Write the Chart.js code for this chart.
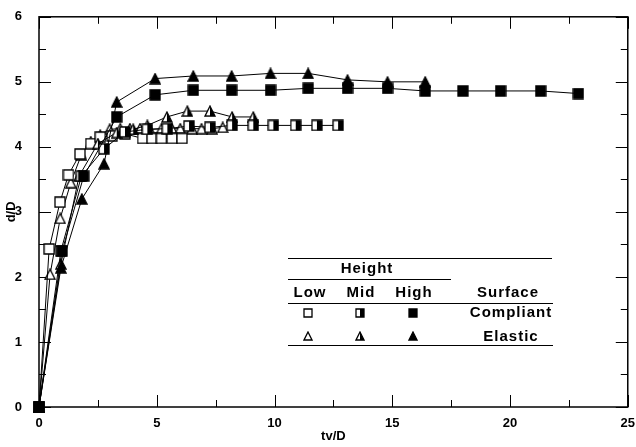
<!DOCTYPE html>
<html>
<head>
<meta charset="utf-8">
<script src="https://cdn.jsdelivr.net/npm/chart.js@4.4.1/dist/chart.umd.min.js"></script>
<style>
  html, body { margin: 0; padding: 0; background: #fff; }
  #wrap { width: 636px; height: 447px; }
</style>
</head>
<body>
<div id="wrap"><canvas id="chart"></canvas></div>
<script>
// values
const compliantLowX = [0, 0.43, 0.89, 1.25, 1.74, 2.2, 2.6, 3.1, 3.65, 4.4, 4.8, 5.2, 5.65, 6.07];
const compliantLowY = [0, 2.43, 3.15, 3.57, 3.89, 4.05, 4.15, 4.17, 4.2, 4.13, 4.13, 4.13, 4.13, 4.13];

const compliantMidX = [0, 0.93, 1.8, 2.76, 3.65, 4.6, 5.45, 6.37, 7.26, 8.2, 9.1, 9.95, 10.9, 11.8, 12.7];
const compliantMidY = [0, 2.4, 3.55, 3.97, 4.23, 4.27, 4.28, 4.32, 4.3, 4.33, 4.33, 4.33, 4.33, 4.33, 4.33];

const compliantHighX = [0, 0.98, 1.9, 3.3, 4.93, 6.55, 8.18, 9.83, 11.43, 13.1, 14.8, 16.4, 18, 19.6, 21.3, 22.9];
const compliantHighY = [0, 2.4, 3.55, 4.46, 4.8, 4.87, 4.87, 4.87, 4.9, 4.9, 4.9, 4.86, 4.86, 4.86, 4.86, 4.82];

const elasticLowX = [0, 0.47, 0.9, 1.35, 1.8, 2.2, 2.6, 3.0, 3.45, 3.86, 4.29, 4.7, 5.2, 5.65, 6.0, 6.5, 6.9, 7.35, 7.8];
const elasticLowY = [0, 2.04, 2.9, 3.45, 3.88, 4.08, 4.18, 4.27, 4.28, 4.28, 4.28, 4.27, 4.28, 4.28, 4.28, 4.28, 4.28, 4.28, 4.3];

const elasticMidX = [0, 0.93, 1.7, 2.5, 3.3, 4.0, 4.6, 5.43, 6.3, 7.26, 8.2, 9.1];
const elasticMidY = [0, 2.2, 3.55, 4.05, 4.22, 4.27, 4.33, 4.46, 4.55, 4.55, 4.46, 4.46];

const elasticHighX = [0, 0.93, 1.82, 2.76, 3.3, 4.93, 6.55, 8.18, 9.83, 11.43, 13.1, 14.8, 16.4];
const elasticHighY = [0, 2.14, 3.2, 3.74, 4.69, 5.05, 5.09, 5.09, 5.13, 5.13, 5.03, 5.0, 5.0];

const xTicks = [0, 5, 10, 15, 20, 25];
const yTicks = [0, 1, 2, 3, 4, 5, 6];

const FONT = '"Liberation Sans", Arial, sans-serif';

// little canvases used as point markers
const makeMarker = (shape, fill, size) => {
    const c = document.createElement('canvas');
    c.width = size + 2;
    c.height = size + 2;
    const g = c.getContext('2d');
    const o = 1, s = size;
    g.beginPath();
    if (shape === 'square') {
        g.rect(o, o, s, s);
    } else {
        g.moveTo(o + s / 2, o);
        g.lineTo(o + s, o + s);
        g.lineTo(o, o + s);
        g.closePath();
    }
    g.fillStyle = fill === 'full' ? '#000' : '#fff';
    g.fill();
    if (fill === 'half') {
        g.save();
        g.clip();
        g.fillStyle = '#000';
        g.fillRect(o + s / 2, 0, s, s + 2);
        g.restore();
    }
    g.lineWidth = 1.3;
    g.strokeStyle = '#000';
    g.stroke();
    return c;
};

const toPoints = (xs, ys) => xs.map((x, i) => ({ x: x, y: ys[i] }));

const series = [
    { label: 'Compliant High', xs: compliantHighX, ys: compliantHighY, shape: 'square', fill: 'full' },
    { label: 'Elastic High', xs: elasticHighX, ys: elasticHighY, shape: 'triangle', fill: 'full' },
    { label: 'Compliant Mid', xs: compliantMidX, ys: compliantMidY, shape: 'square', fill: 'half' },
    { label: 'Elastic Mid', xs: elasticMidX, ys: elasticMidY, shape: 'triangle', fill: 'half' },
    { label: 'Compliant Low', xs: compliantLowX, ys: compliantLowY, shape: 'square', fill: 'open' },
    { label: 'Elastic Low', xs: elasticLowX, ys: elasticLowY, shape: 'triangle', fill: 'open' }
];

const datasets = series.map(s => ({
    label: s.label,
    data: toPoints(s.xs, s.ys),
    showLine: true,
    borderColor: '#000',
    borderWidth: 1,
    pointStyle: makeMarker(s.shape, s.fill, 10),
    pointRadius: 5,
    clip: false
}));

// frame with inward ticks on all four sides
const framePlugin = {
    id: 'frame',
    beforeDatasetsDraw(chart) {
        const { ctx, chartArea: a, scales: { x, y } } = chart;
        ctx.save();
        ctx.strokeStyle = '#000';
        ctx.lineWidth = 1.5;
        ctx.strokeRect(a.left, a.top, a.right - a.left, a.bottom - a.top);
        ctx.lineWidth = 1;
        for (let v = 0; v <= 25; v += 2.5) {
            const px = Math.round(x.getPixelForValue(v)) + 0.5;
            const len = v % 5 === 0 ? 12 : 7;
            ctx.beginPath();
            ctx.moveTo(px, a.bottom); ctx.lineTo(px, a.bottom - len);
            ctx.moveTo(px, a.top); ctx.lineTo(px, a.top + len);
            ctx.stroke();
        }
        for (let v = 0; v <= 6; v += 0.5) {
            const py = Math.round(y.getPixelForValue(v)) + 0.5;
            const len = v % 1 === 0 ? 12 : 7;
            ctx.beginPath();
            ctx.moveTo(a.left, py); ctx.lineTo(a.left + len, py);
            ctx.moveTo(a.right, py); ctx.lineTo(a.right - len, py);
            ctx.stroke();
        }
        ctx.restore();
    }
};

// the table-like key in the lower right
const keyPlugin = {
    id: 'key',
    afterDraw(chart) {
        const ctx = chart.ctx;
        ctx.save();
        ctx.strokeStyle = '#000';
        ctx.lineWidth = 1;
        const hline = (x1, x2, y) => {
            ctx.beginPath();
            ctx.moveTo(x1, y + 0.5); ctx.lineTo(x2, y + 0.5);
            ctx.stroke();
        };
        hline(288, 552, 258);
        hline(288, 451, 279);
        hline(288, 553, 303);
        hline(288, 553, 345);

        ctx.fillStyle = '#000';
        ctx.font = 'bold 15px ' + FONT;
        ctx.textAlign = 'center';
        ctx.textBaseline = 'middle';
        ctx.letterSpacing = '1px';
        ctx.fillText('Height', 367, 269);
        ctx.fillText('Low', 310, 293);
        ctx.fillText('Mid', 361, 293);
        ctx.fillText('High', 414, 293);
        ctx.fillText('Surface', 508, 293);
        ctx.fillText('Compliant', 511, 313);
        ctx.fillText('Elastic', 511, 337);

        const cols = [308, 360, 413];
        const fills = ['open', 'half', 'full'];
        cols.forEach((cx, i) => {
            const sq = makeMarker('square', fills[i], 8);
            ctx.drawImage(sq, Math.round(cx - sq.width / 2), Math.round(313 - sq.height / 2));
            const tr = makeMarker('triangle', fills[i], 8);
            ctx.drawImage(tr, Math.round(cx - tr.width / 2), Math.round(336 - tr.height / 2));
        });
        ctx.restore();
    }
};

new Chart(document.getElementById('chart'), {
    type: 'scatter',
    data: { datasets: datasets },
    options: {
        responsive: true,
        maintainAspectRatio: false,
        animation: false,
        events: [],
        layout: { padding: { top: 14, right: 8, left: 0, bottom: 0 } },
        plugins: { legend: { display: false }, tooltip: { enabled: false } },
        scales: {
            x: {
                type: 'linear',
                min: 0,
                max: 25,
                grid: { display: false },
                border: { display: false },
                afterBuildTicks: scale => { scale.ticks = xTicks.map(v => ({ value: v })); },
                ticks: { color: '#000', font: { family: FONT, size: 13, weight: 'bold' }, padding: 1, maxRotation: 0 },
                title: { display: true, text: 'tv/D', color: '#000', font: { family: FONT, size: 13, weight: 'bold' }, padding: { top: 0, bottom: 3 } },
                afterFit: scale => { scale.height = 40; }
            },
            y: {
                type: 'linear',
                min: 0,
                max: 6,
                grid: { display: false },
                border: { display: false },
                afterBuildTicks: scale => { scale.ticks = yTicks.map(v => ({ value: v })); },
                ticks: { color: '#000', font: { family: FONT, size: 13, weight: 'bold' }, padding: 9 },
                title: { display: true, text: 'd/D', color: '#000', font: { family: FONT, size: 13, weight: 'bold' }, padding: { top: 4, bottom: 0 } },
                afterFit: scale => { scale.width = 39; }
            }
        }
    },
    plugins: [framePlugin, keyPlugin]
});
</script>
</body>
</html>
